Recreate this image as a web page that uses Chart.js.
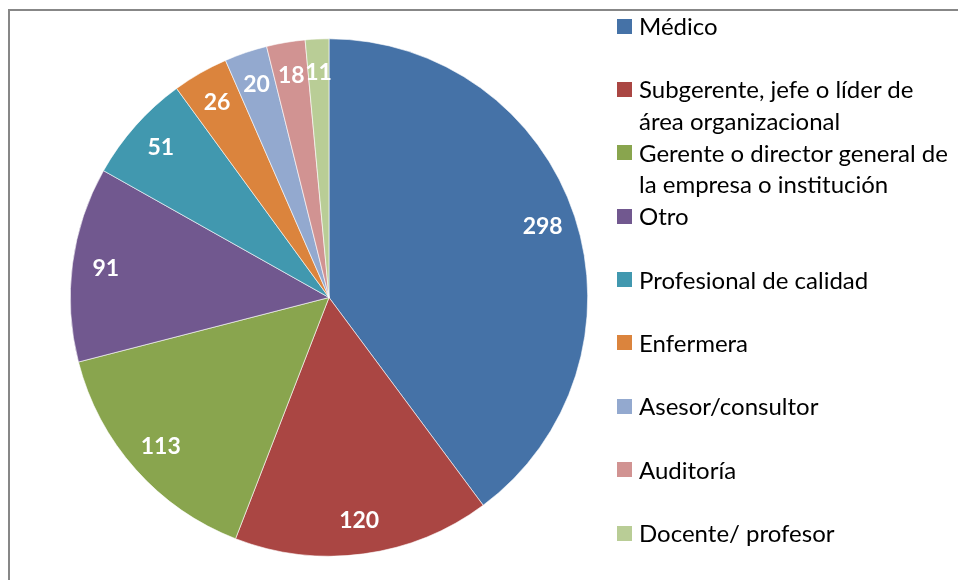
<!DOCTYPE html>
<html>
<head>
<meta charset="utf-8">
<script src="https://cdn.jsdelivr.net/npm/chart.js@4/dist/chart.umd.min.js"></script>
<style>
  html, body { margin: 0; padding: 0; background: #fff; }
  #wrap { position: relative; width: 958px; height: 580px; overflow: hidden; }
  #frame {
    position: absolute; left: 8px; top: 9px;
    width: 1100px; height: 800px;
    border: 2px solid #878787;
  }
  #pie { position: absolute; left: 0; top: 0; }
  #legend {
    position: absolute; left: 617px; top: 10px;
    font-family: Lato, "Open Sans", sans-serif;
    font-size: 24px; line-height: 31.7px; color: #000;
    white-space: nowrap;
  }
  .item { position: relative; height: 63.4px; padding-left: 22px; }
  .swatch { position: absolute; left: 0; top: 8.5px; width: 15px; height: 15px; }
</style>
</head>
<body>
<div id="wrap">
  <div id="frame"></div>
  <canvas id="pie" width="958" height="580"></canvas>
  <div id="legend"></div>
</div>
<script>
const roles = [
    "Médico",
    ["Subgerente, jefe o líder de", "área organizacional"],
    ["Gerente o director general de", "la empresa o institución"],
    "Otro",
    "Profesional de calidad",
    "Enfermera",
    "Asesor/consultor",
    "Auditoría",
    "Docente/ profesor"
];
const counts = [298, 120, 113, 91, 51, 26, 20, 18, 11];
const sliceColors = [
    "#4572A7", "#AA4643", "#89A54E", "#71588F", "#4198AF",
    "#DB843D", "#93A9CF", "#D19392", "#B9CD96"
];

// white numbers inside each slice, along the middle angle
const sliceLabels = {
    id: "sliceLabels",
    afterDatasetsDraw(chart) {
        const ctx = chart.ctx;
        const meta = chart.getDatasetMeta(0);
        ctx.save();
        ctx.font = "bold 23px Lato, sans-serif";
        ctx.fillStyle = "#ffffff";
        ctx.textAlign = "center";
        ctx.textBaseline = "middle";
        meta.data.forEach((arc, i) => {
            const p = arc.getProps(["x", "y", "startAngle", "endAngle", "outerRadius"], true);
            const mid = (p.startAngle + p.endAngle) / 2;
            const r = p.outerRadius * 0.87;
            ctx.fillText(counts[i], p.x + Math.cos(mid) * r, p.y + Math.sin(mid) * r);
        });
        ctx.restore();
    }
};

new Chart(document.getElementById("pie").getContext("2d"), {
    type: "pie",
    data: {
        labels: roles,
        datasets: [{
            data: counts,
            backgroundColor: sliceColors,
            borderColor: "#ffffff",
            borderWidth: 0.6
        }]
    },
    options: {
        responsive: false,
        animation: false,
        layout: { padding: { left: 70, right: 370, top: 38.5, bottom: 23.5 } },
        plugins: {
            legend: { display: false },
            tooltip: { enabled: false }
        }
    },
    plugins: [sliceLabels]
});

// legend built from the same arrays
const legend = document.getElementById("legend");
roles.forEach((role, i) => {
    const item = document.createElement("div");
    item.className = "item";
    const sw = document.createElement("span");
    sw.className = "swatch";
    sw.style.background = sliceColors[i];
    item.appendChild(sw);
    const lines = Array.isArray(role) ? role : [role];
    lines.forEach(line => {
        const div = document.createElement("div");
        div.textContent = line;
        item.appendChild(div);
    });
    legend.appendChild(item);
});
</script>
</body>
</html>
